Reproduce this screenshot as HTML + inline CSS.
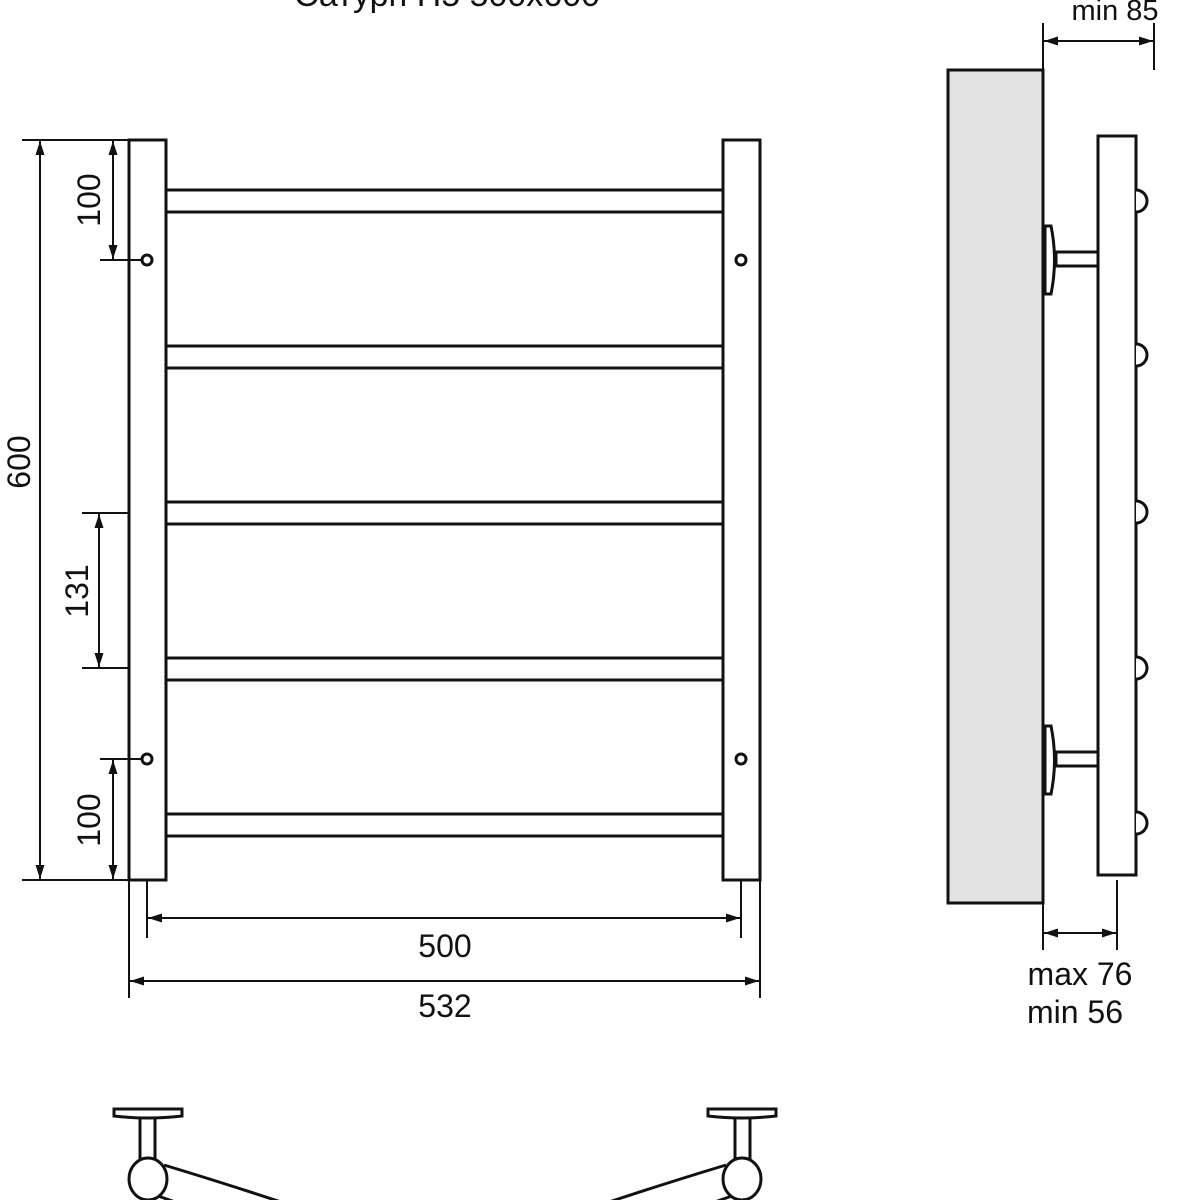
<!DOCTYPE html>
<html><head><meta charset="utf-8"><style>body{margin:0;background:#fff}svg{display:block}text{font-family:"Liberation Sans",sans-serif;fill:#111}</style></head><body>
<svg width="1200" height="1200" viewBox="0 0 1200 1200" xmlns="http://www.w3.org/2000/svg">
<defs>
<marker id="a" viewBox="0 0 14 10" refX="14" refY="5" markerWidth="14" markerHeight="10" orient="auto-start-reverse" markerUnits="userSpaceOnUse"><path d="M0,0.5 L14,5 L0,9.5 z" fill="#111"/></marker>
</defs>
<text x="447" y="6" font-size="34" text-anchor="middle">Сатурн П5 500x600</text>
<g fill="none" stroke="#111" stroke-width="3">
<rect x="129" y="140" width="37" height="740" fill="#fff"/>
<rect x="723" y="140" width="37" height="740" fill="#fff"/>
<rect x="166" y="190" width="557" height="22"/>
<rect x="166" y="346" width="557" height="22"/>
<rect x="166" y="502" width="557" height="22"/>
<rect x="166" y="658" width="557" height="22"/>
<rect x="166" y="814" width="557" height="22"/>
<circle cx="147" cy="260" r="5"/><circle cx="741" cy="260" r="5"/>
<circle cx="147" cy="759" r="5"/><circle cx="741" cy="759" r="5"/>
</g>
<g fill="none" stroke="#111" stroke-width="2">
<line x1="22" y1="140" x2="129" y2="140"/><line x1="22" y1="880" x2="129" y2="880"/>
<line x1="40" y1="141" x2="40" y2="879" marker-start="url(#a)" marker-end="url(#a)"/>
<line x1="100" y1="260" x2="142" y2="260"/>
<line x1="113" y1="141" x2="113" y2="259" marker-start="url(#a)" marker-end="url(#a)"/>
<line x1="82" y1="513" x2="129" y2="513"/><line x1="82" y1="668" x2="129" y2="668"/>
<line x1="99" y1="514" x2="99" y2="667" marker-start="url(#a)" marker-end="url(#a)"/>
<line x1="100" y1="759" x2="142" y2="759"/>
<line x1="113" y1="760" x2="113" y2="879" marker-start="url(#a)" marker-end="url(#a)"/>
<line x1="147" y1="880" x2="147" y2="938"/><line x1="741" y1="880" x2="741" y2="938"/>
<line x1="148" y1="918" x2="740" y2="918" marker-start="url(#a)" marker-end="url(#a)"/>
<line x1="129" y1="880" x2="129" y2="998"/><line x1="760" y1="880" x2="760" y2="998"/>
<line x1="130" y1="981" x2="759" y2="981" marker-start="url(#a)" marker-end="url(#a)"/>
</g>
<text transform="translate(30,462) rotate(-90)" font-size="32" text-anchor="middle">600</text>
<text transform="translate(100,200) rotate(-90)" font-size="32" text-anchor="middle">100</text>
<text transform="translate(88,591) rotate(-90)" font-size="32" text-anchor="middle">131</text>
<text transform="translate(100,820) rotate(-90)" font-size="32" text-anchor="middle">100</text>
<text x="445" y="957" font-size="32" text-anchor="middle">500</text>
<text x="445" y="1017" font-size="32" text-anchor="middle">532</text>
<!-- side view -->
<g stroke="#111" stroke-width="3">
<rect x="948" y="70" width="95" height="833" fill="#e3e3e3"/>
<rect x="1098" y="136" width="38" height="739" fill="#fff"/>
<g fill="#fff">
<path d="M1136,190 a10,10 0 0 1 0,22"/><path d="M1136,344 a10,10 0 0 1 0,22"/><path d="M1136,501 a10,10 0 0 1 0,22"/><path d="M1136,657 a10,10 0 0 1 0,22"/><path d="M1136,812 a10,10 0 0 1 0,22"/>
<rect x="1056" y="252" width="42" height="14"/><path d="M1045,226 h6 q7,34 0,68 h-6 z"/>
<rect x="1056" y="752" width="42" height="14"/><path d="M1045,726 h6 q7,34 0,68 h-6 z"/>
</g>
</g>
<g fill="none" stroke="#111" stroke-width="2">
<line x1="1043" y1="23" x2="1043" y2="70"/><line x1="1154" y1="23" x2="1154" y2="70"/>
<line x1="1044" y1="41" x2="1153" y2="41" marker-start="url(#a)" marker-end="url(#a)"/>
<line x1="1043" y1="903" x2="1043" y2="950"/><line x1="1117" y1="880" x2="1117" y2="950"/>
<line x1="1044" y1="933" x2="1116" y2="933" marker-start="url(#a)" marker-end="url(#a)"/>
</g>
<text x="1115" y="20" font-size="29" text-anchor="middle">min 85</text>
<text x="1080" y="985" font-size="32" text-anchor="middle">max 76</text>
<text x="1075" y="1023" font-size="32" text-anchor="middle">min 56</text>
<!-- bottom view -->
<g stroke="#111" stroke-width="3" fill="#fff">
<path d="M164,1165 Q230,1185 290,1205" fill="none"/><path d="M158,1196 Q185,1205 205,1215" fill="none"/>
<path d="M726,1165 Q660,1185 600,1205" fill="none"/><path d="M732,1196 Q705,1205 685,1215" fill="none"/>
<rect x="140" y="1117" width="15" height="42"/><path d="M114,1109 h68 v7 q-34,4 -68,0 z"/>
<ellipse cx="148" cy="1179" rx="19" ry="21"/>
<rect x="735" y="1117" width="15" height="42"/><path d="M708,1109 h68 v7 q-34,4 -68,0 z"/>
<ellipse cx="742" cy="1179" rx="19" ry="21"/>
</g>
</svg>
</body></html>
